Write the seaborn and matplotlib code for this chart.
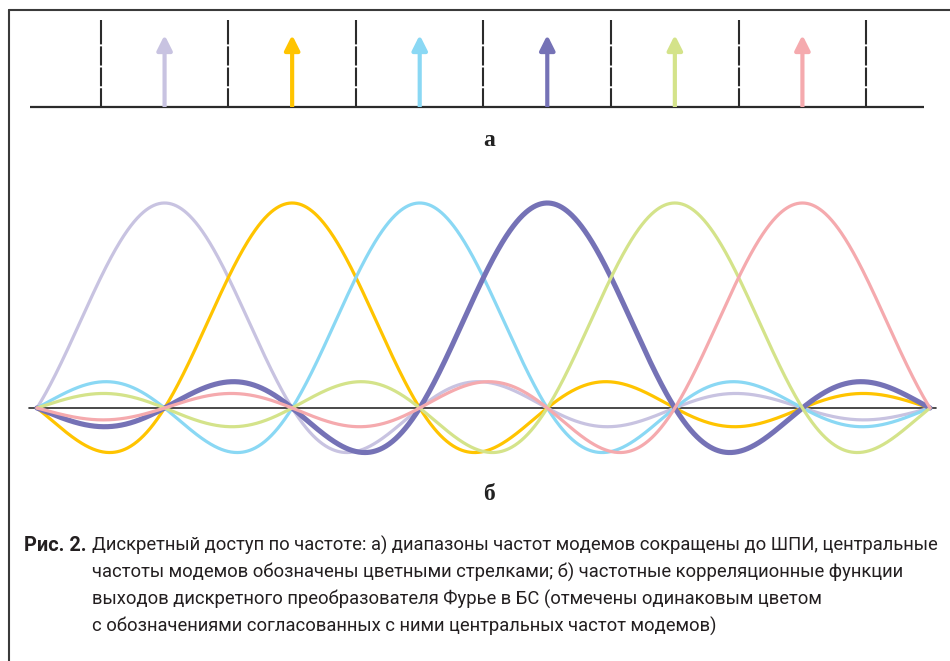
import numpy as np
import pandas as pd
import matplotlib
matplotlib.use("Agg")
import matplotlib.pyplot as plt
from matplotlib.lines import Line2D
import seaborn as sns

# центральные частоты модемов (в единицах шага сетки) и их цвета
centers = [1, 2, 3, 4, 5, 6]
colors = ["#C8C3E1", "#FFC400", "#8AD8F4", "#7572B6", "#D4E38A", "#F5AAAE"]
widths = [2.3, 2.3, 2.3, 3.7, 2.3, 2.3]
# границы полос (пунктир)
edges = [0.5, 1.5, 2.5, 3.5, 4.5, 5.5, 6.5]
u_range = [0, 7]

caption_lines = [
    "Дискретный доступ по частоте: а) диапазоны частот модемов сокращены до ШПИ, центральные",
    "частоты модемов обозначены цветными стрелками; б) частотные корреляционные функции",
    "выходов дискретного преобразователя Фурье в БС (отмечены одинаковым цветом",
    "с обозначениями согласованных с ними центральных частот модемов)",
]

sns.set_style("white")
plt.rcParams['font.family'] = ['Roboto', 'DejaVu Sans']

W, H = 950, 661
fig = plt.figure(figsize=(W / 100, H / 100), dpi=100)

S = 127.57  # пикселей на шаг
xlim = (-37 / S, (W - 37) / S)

# а) стрелки
ax1 = fig.add_axes([0, 1 - 112 / H, 1, 100 / H])
ax1.set_xlim(xlim)
ax1.set_ylim(-5 / 70, 95 / 70)
ax1.axis('off')
ax1.plot([-0.055, 6.953], [0, 0], color="#2b2b2b", lw=1.6, solid_capstyle='butt')
for e in edges:
    ax1.plot([e, e], [0, 87 / 70], color="#2b2b2b", lw=1.5,
             linestyle=(0, (9.0, 0.95, 9.0, 0.95, 9.2, 0.95, 20, 0.01)),
             dash_capstyle='butt')
for c, col in zip(centers, colors):
    ax1.annotate("", xy=(c, 1.03), xytext=(c, 0),
                 arrowprops=dict(arrowstyle="-|>,head_length=0.9,head_width=0.45",
                                 mutation_scale=10, color=col, lw=3,
                                 shrinkA=0, shrinkB=0, capstyle='butt'))

# б) корреляционные функции
ax2 = fig.add_axes([0, 1 - 470 / H, 1, 280 / H])
ax2.set_xlim(xlim)
ax2.set_ylim(-62 / 205, 218 / 205)
ax2.axis('off')
ax2.plot([-0.063, 7.047], [0, 0], color="#2b2b2b", lw=1.2)

u = np.linspace(u_range[0], u_range[1], 1400)
for c, col, w in zip(centers, colors, widths):
    df = pd.DataFrame({'u': u, 'r': np.sinc(u - c)})
    sns.lineplot(data=df, x='u', y='r', ax=ax2, color=col, linewidth=w)
ax2.axis('off')

# подписи а, б
fig.text(489 / W, 1 - 141 / H, "а", ha='center', va='center', fontsize=17,
         fontweight='bold', family=['Liberation Serif', 'DejaVu Serif'], color="#222222")
fig.text(489 / W, 1 - 495 / H, "б", ha='center', va='center', fontsize=17,
         fontweight='bold', family=['Liberation Serif', 'DejaVu Serif'], color="#222222")

# подпись рисунка
fig.text(24 / W, 1 - 550.7 / H, "Рис. 2.", ha='left', va='baseline', fontsize=14.3,
         fontweight='bold', color="#231f20")
for i, line in enumerate(caption_lines):
    fig.text(92 / W, 1 - (550.7 + 27 * i) / H, line, ha='left', va='baseline',
             fontsize=13.2, color="#231f20")

# рамка
fig.add_artist(Line2D([9 / W, 1], [1 - 10 / H, 1 - 10 / H], color="#3a3a3a", lw=1.5))
fig.add_artist(Line2D([9 / W, 9 / W], [0, 1 - 10 / H], color="#3a3a3a", lw=1.5))

fig.savefig("out.png", dpi=100)
